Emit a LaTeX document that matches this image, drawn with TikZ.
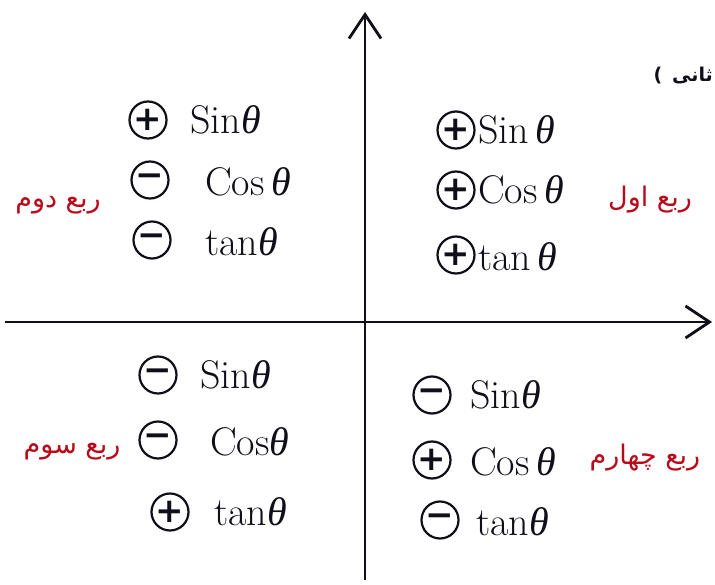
\documentclass[tikz,border=0pt]{standalone}
\usepackage{fontspec}
\newfontfamily\arabicfont[Script=Arabic]{DejaVu Sans}
\newfontfamily\greekfont{Liberation Serif}
\newfontfamily\signfont{DejaVu Sans}
\TeXXeTstate=1
\usetikzlibrary{arrows.meta,positioning}
\definecolor{inkred}{RGB}{185,10,25}
\definecolor{inkblk}{RGB}{15,15,25}
\newcommand{\thet}{{\greekfont\itshape θ}}
\tikzset{
  % axes
  axisline/.style = {line width=2.8pt, draw=inkblk,
                     -{Straight Barb[length=24pt,width=32pt,line width=2.8pt]}},
  % circled signs
  signpt/.style   = {circle, draw=inkblk, line width=2.2pt, minimum size=37pt,
                     inner sep=0pt, text=inkblk,
                     font=\signfont\bfseries\fontsize{34}{34}\selectfont},
  % trig function labels
  trig/.style     = {anchor=west, inner sep=0pt, text=inkblk,
                     font=\fontsize{40}{44}\selectfont},
  % quadrant names
  quadlab/.style  = {text=inkred, font=\arabicfont\fontsize{27}{30}\selectfont},
}

\begin{document}
\begin{tikzpicture}[x=1pt,y=-1pt]
  \fill[white] (0,0) rectangle (715,585);
  \useasboundingbox (0,0) rectangle (715,585);

  % axes
  \coordinate (ybot) at (365,580);
  \coordinate (ytop) at (365,12);
  \coordinate (xleft) at (5,322);
  \coordinate (xright) at (712,322);
  \draw[axisline] (ybot) -- (ytop);
  \draw[axisline] (xleft) -- (xright);

  % second quadrant
  \node[signpt] (s2a) at (148,120) {+};
  \node[signpt] (s2b) at (150,180) {−};
  \node[signpt] (s2c) at (152,240) {−};
  \node[trig] (t2a) at (190,120) {Sin\thet};
  \node[trig] (t2b) at (205,182) {Cos\,\thet};
  \node[trig] (t2c) at (205,242) {tan\thet};
  \node[quadlab] (q2) at (58,205) {\beginR ربع دوم\endR};

  % first quadrant
  \node[signpt] (s1a) at (456,130) {+};
  \node[signpt] (s1b) at (456,190) {+};
  \node[signpt] (s1c) at (456,255) {+};
  \node[trig] (t1a) at (478,130) {Sin\,\thet};
  \node[trig] (t1b) at (478,190) {Cos\,\thet};
  \node[trig] (t1c) at (478,257) {tan\,\thet};
  \node[quadlab] (q1) at (650,200) {\beginR ربع اول\endR};

  % third quadrant
  \node[signpt] (s3a) at (158,375) {−};
  \node[signpt] (s3b) at (158,440) {−};
  \node[signpt] (s3c) at (170,512) {+};
  \node[trig] (t3a) at (200,375) {Sin\thet};
  \node[trig] (t3b) at (210,442) {Cos\thet};
  \node[trig] (t3c) at (214,512) {tan\thet};
  \node[quadlab] (q3) at (72,452) {\beginR ربع سوم\endR};

  % fourth quadrant
  \node[signpt] (s4a) at (432,395) {−};
  \node[signpt] (s4b) at (432,460) {+};
  \node[signpt] (s4c) at (440,520) {−};
  \node[trig] (t4a) at (470,395) {Sin\thet};
  \node[trig] (t4b) at (470,462) {Cos\,\thet};
  \node[trig] (t4c) at (476,522) {tan\thet};
  \node[quadlab] (q4) at (645,458) {\beginR ربع چهارم\endR};

  % note at the top
  \node[anchor=east, inner sep=0pt, text=inkblk,
        font=\arabicfont\bfseries\fontsize{19}{22}\selectfont] (note) at (713,76)
        {)\, \beginR ثانی\endR};
\end{tikzpicture}
\end{document}
